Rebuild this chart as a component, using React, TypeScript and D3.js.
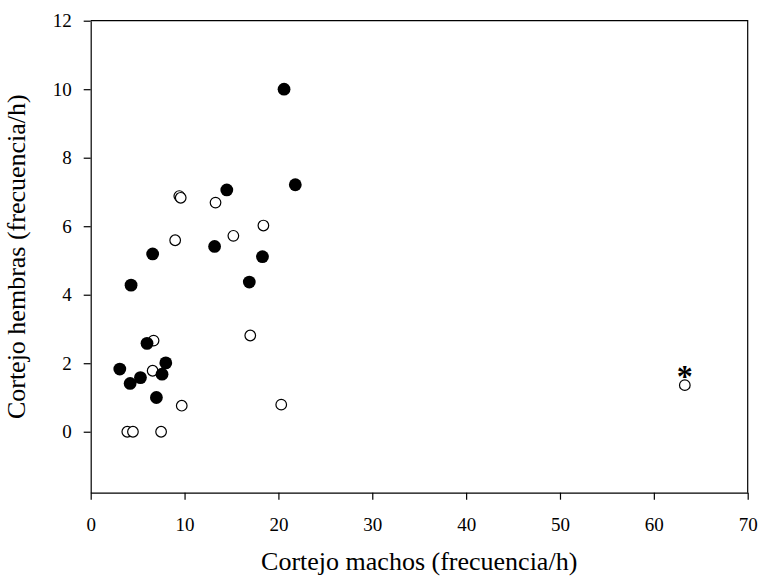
import React, { useEffect, useRef } from "react";
import * as d3 from "d3";

// filled circles
const filledX = [20.6, 21.8, 14.5, 6.6, 13.2, 18.3, 4.3, 16.9, 6.0, 8.0, 3.1, 5.3, 7.6, 4.2, 7.0];
const filledY = [10.0, 7.21, 7.06, 5.19, 5.41, 5.11, 4.28, 4.37, 2.58, 2.01, 1.83, 1.58, 1.68, 1.41, 1.0];

// open circles
const openX = [9.44, 9.59, 13.3, 18.4, 15.2, 9.0, 17.0, 6.7, 6.6, 9.7, 20.3, 3.9, 4.5, 7.5, 63.3];
const openY = [6.88, 6.83, 6.69, 6.02, 5.72, 5.59, 2.81, 2.66, 1.78, 0.76, 0.79, 0, 0, 0, 1.36];

const xTicks = [0, 10, 20, 30, 40, 50, 60, 70];
const yTicks = [0, 2, 4, 6, 8, 10, 12];

const xTitle = "Cortejo machos (frecuencia/h)";
const yTitle = "Cortejo hembras (frecuencia/h)";

const W = 759;
const H = 577;

const App = () => {
  const chart = useRef(null);

  useEffect(() => {
    document.body.style.margin = "0";
    const font = "Liberation Serif, Times New Roman, serif";

    const left = 90.7, right = 747.7, top = 20.7, bottom = 492.7;

    const x = d3.scaleLinear().domain([0, 70]).range([left, right]);
    const y = d3.scaleLinear().domain([-1.78, 12]).range([bottom, top]);

    const svg = d3.select(chart.current).attr("width", W).attr("height", H);
    svg.selectAll("*").remove();

    // frame top + right
    svg
      .append("path")
      .attr("d", `M${left},${top}H${right}V${bottom}`)
      .attr("fill", "none")
      .attr("stroke", "black")
      .attr("stroke-width", 1.2);

    // x axis
    const gx = svg
      .append("g")
      .attr("transform", `translate(0,${bottom})`)
      .call(d3.axisBottom(x).tickValues(xTicks).tickSize(7).tickSizeOuter(0).tickPadding(17.5))
      .attr("font-family", font)
      .attr("font-size", 19);
    gx.select(".domain").attr("stroke-width", 1.2);
    gx.selectAll(".tick line").attr("stroke-width", 1.2);
    gx.selectAll("text").style("font-family", font).style("font-size", "19px").attr("fill", "black");

    // y axis
    const gy = svg
      .append("g")
      .attr("transform", `translate(${left},0)`)
      .call(d3.axisLeft(y).tickValues(yTicks).tickSize(7).tickSizeOuter(0).tickPadding(12))
      .attr("font-family", font)
      .attr("font-size", 19);
    gy.select(".domain").attr("stroke-width", 1.2);
    gy.selectAll(".tick line").attr("stroke-width", 1.2);
    gy.selectAll("text").style("font-family", font).style("font-size", "19px").attr("fill", "black");

    // titles
    svg
      .append("text")
      .attr("x", (left + right) / 2)
      .attr("y", 570)
      .attr("text-anchor", "middle")
      .style("font-family", font)
      .style("font-size", "26px")
      .text(xTitle);

    svg
      .append("text")
      .attr("transform", `translate(25,${(top + bottom) / 2}) rotate(-90)`)
      .attr("text-anchor", "middle")
      .style("font-family", font)
      .style("font-size", "26px")
      .text(yTitle);

    // points
    svg
      .append("g")
      .selectAll("circle")
      .data(openX)
      .join("circle")
      .attr("cx", (d) => x(d))
      .attr("cy", (d, i) => y(openY[i]))
      .attr("r", 5.3)
      .attr("fill", "white")
      .attr("stroke", "black")
      .attr("stroke-width", 1.2);

    svg
      .append("g")
      .selectAll("circle")
      .data(filledX)
      .join("circle")
      .attr("cx", (d) => x(d))
      .attr("cy", (d, i) => y(filledY[i]))
      .attr("r", 6.4)
      .attr("fill", "black");

    // asterisk on the outlier
    const last = openX.length - 1;
    svg
      .append("text")
      .attr("x", x(openX[last]))
      .attr("y", y(openY[last]) + 2)
      .attr("text-anchor", "middle")
      .style("font-family", font)
      .style("font-size", "32px")
      .style("font-weight", "bold")
      .text("*");
  });

  return (
    <div id="chartArea">
      <svg ref={chart}></svg>
    </div>
  );
};

export default App;
